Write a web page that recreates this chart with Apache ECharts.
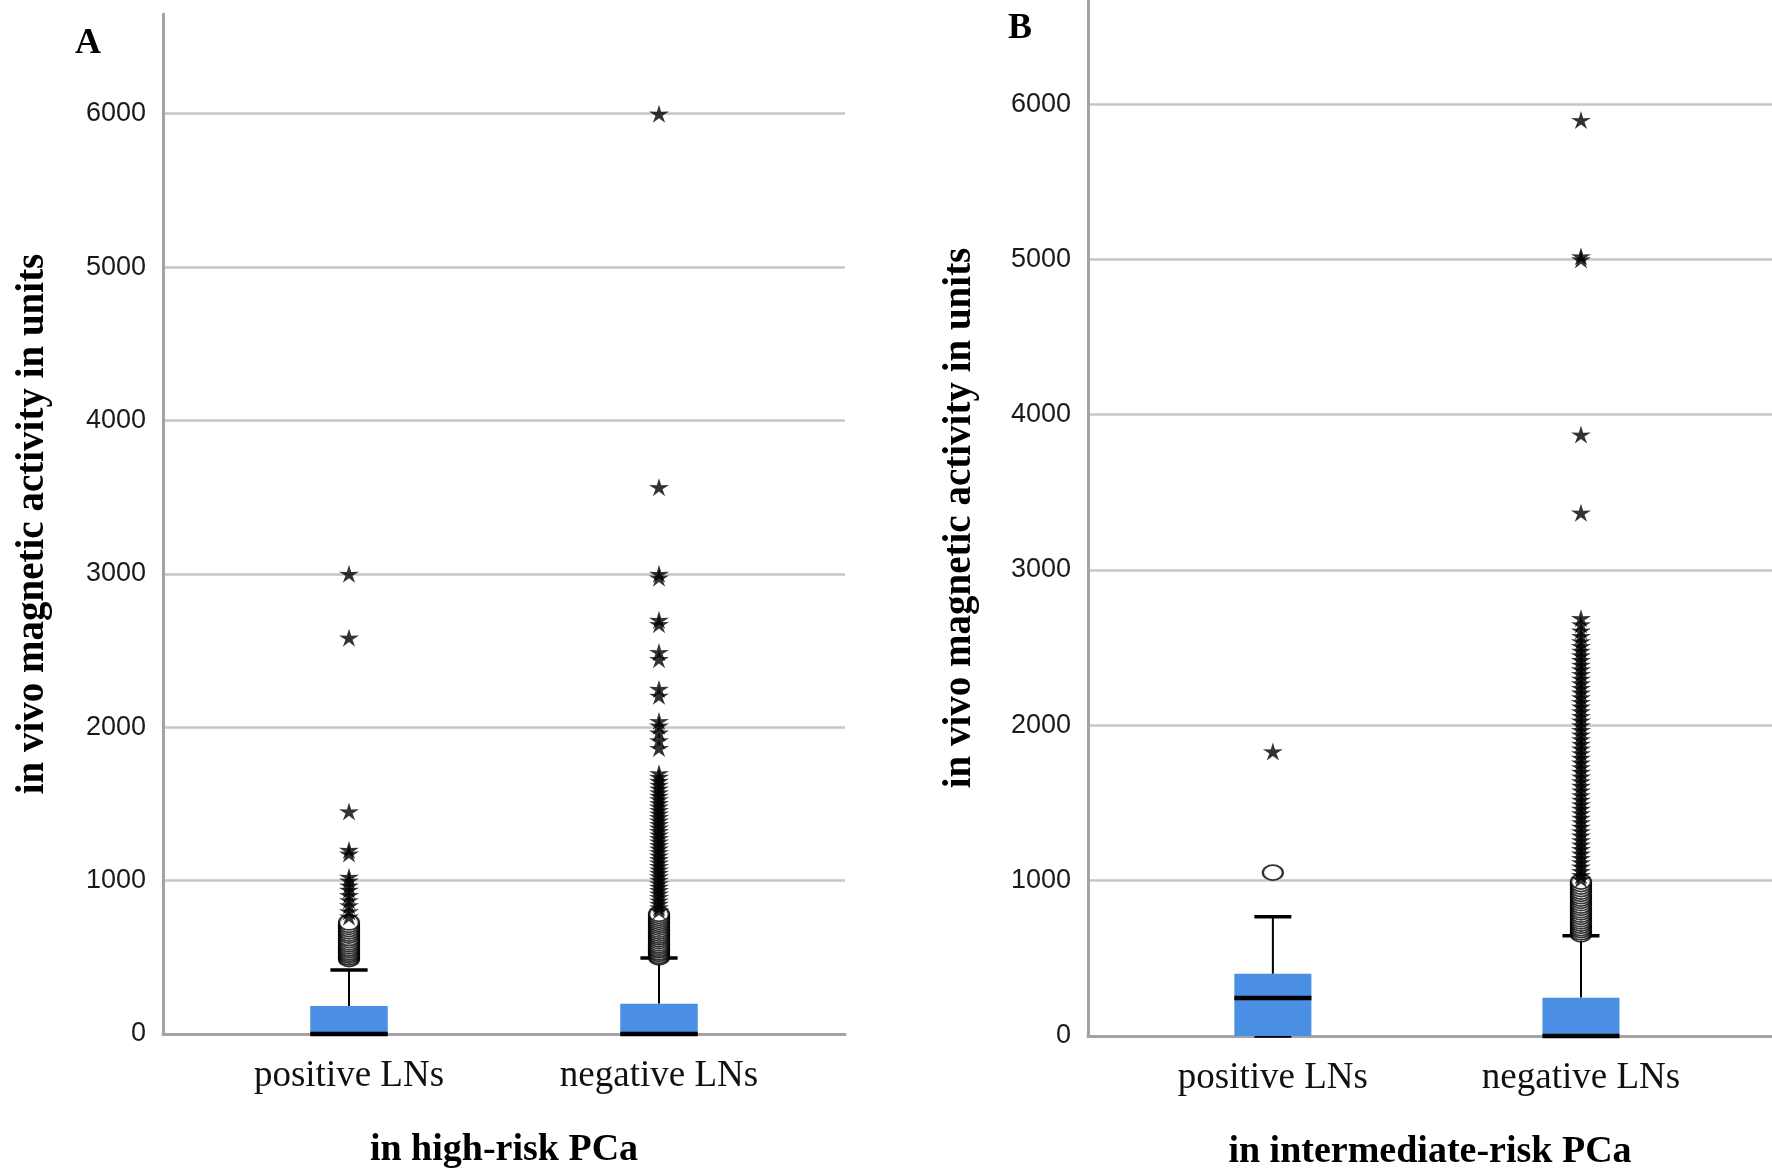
<!DOCTYPE html>
<html>
<head>
<meta charset="utf-8">
<title>In vivo magnetic activity</title>
<script src="https://cdn.jsdelivr.net/npm/echarts@6/dist/echarts.min.js"></script>
<style>
  html, body { margin: 0; padding: 0; background: #fff; }
  #chart { width: 1772px; height: 1171px; }
</style>
</head>
<body>
<div id="chart"></div>
<script>
const categories = ['positive LNs', 'negative LNs'];

// box: [min, Q1, median, Q3, max]
const highPosBox = [0, 0, 0, 183, 418];
const highNegBox = [0, 0, 0, 197, 495];
const interPosBox = [0, 0, 245, 400, 768];
const interNegBox = [0, 0, 0, 247, 645];

// outliers (o) and extremes (*)
const highPosCircles = [488, 499, 511, 523, 534, 547, 558, 571, 584, 598, 612, 626, 641, 655, 669, 684, 698, 712, 727];
const highPosStars = [765, 800, 838, 872, 905, 940, 968, 1000, 1025, 1176, 1200, 1451, 2584, 3000];

const highNegCircles = [500, 510, 522, 533, 545, 556, 568, 580, 592, 605, 617, 630, 642, 655, 668, 680, 693, 706, 718, 731, 744, 757, 770, 783];
const highNegStars = [
  805, 826, 848, 870, 893, 915, 938, 960, 982, 1005, 1027, 1050, 1072, 1095, 1118, 1140,
  1163, 1186, 1208, 1231, 1254, 1277, 1300, 1322, 1345, 1368, 1391, 1414, 1437, 1460,
  1483, 1506, 1530, 1553, 1576, 1600, 1625, 1650, 1676, 1700,
  1864, 1914, 1965, 2010, 2040, 2205, 2250, 2444, 2490, 2672, 2700, 2975, 3000, 3565, 6000
];

const interPosCircles = [1052];
const interPosStars = [1832];

const interNegCircles = [655, 668, 682, 695, 710, 724, 738, 752, 767, 781, 796, 810, 825, 840, 855, 870, 885, 900, 915, 930, 946, 962, 978, 994];
const interNegStars = [
  1010, 1035, 1062, 1090, 1118, 1146, 1174, 1203, 1232, 1260, 1290, 1318, 1347, 1376,
  1405, 1434, 1463, 1492, 1521, 1550, 1580, 1610, 1640, 1670, 1700, 1730, 1760, 1790,
  1820, 1850, 1880, 1910, 1940, 1970, 2000, 2030, 2060, 2090, 2120, 2150, 2180, 2210,
  2240, 2270, 2300, 2330, 2360, 2390, 2420, 2450, 2480, 2510, 2540, 2575, 2610, 2650, 2690,
  3369, 3872, 5000, 5020, 5897
];

const starPath = 'path://M0,-10 L2.06,-2.83 L9.51,-3.09 L3.33,1.08 L5.88,8.09 L0,3.5 L-5.88,8.09 L-3.33,1.08 L-9.51,-3.09 L-2.06,-2.83 Z';
const boxColor = '#4a8fe3';
const serif = "'Liberation Serif', 'Times New Roman', serif";
const sans = "'Liberation Sans', Arial, sans-serif";

const chart = echarts.init(document.getElementById('chart'));

function renderBox(params, api) {
  const x = api.value(0);
  const lo = api.coord([x, api.value(1)]);
  const q1 = api.coord([x, api.value(2)]);
  const med = api.coord([x, api.value(3)]);
  const q3 = api.coord([x, api.value(4)]);
  const hi = api.coord([x, api.value(5)]);
  const band = api.size([1, 0])[0];
  const boxW = band * 0.25;
  const capW = band * 0.12;
  const cx = lo[0];
  const black = { stroke: '#000' };
  return {
    type: 'group',
    children: [
      { type: 'line', shape: { x1: cx, y1: q3[1], x2: cx, y2: hi[1] }, style: { ...black, lineWidth: 2 } },
      { type: 'line', shape: { x1: cx - capW / 2, y1: hi[1], x2: cx + capW / 2, y2: hi[1] }, style: { ...black, lineWidth: 3.5 } },
      { type: 'line', shape: { x1: cx, y1: q1[1], x2: cx, y2: lo[1] }, style: { ...black, lineWidth: 2 } },
      { type: 'line', shape: { x1: cx - capW / 2, y1: lo[1], x2: cx + capW / 2, y2: lo[1] }, style: { ...black, lineWidth: 3.5 } },
      { type: 'rect', shape: { x: cx - boxW / 2, y: q3[1], width: boxW, height: q1[1] - q3[1] }, style: { fill: boxColor } },
      { type: 'line', shape: { x1: cx - boxW / 2, y1: med[1], x2: cx + boxW / 2, y2: med[1] }, style: { ...black, lineWidth: 4.5 } }
    ]
  };
}

function xAxisFor(gridIndex, max, title) {
  return {
    gridIndex,
    type: 'value',
    min: -0.6,
    max,
    name: title,
    nameLocation: 'middle',
    nameGap: 97,
    nameTextStyle: { fontFamily: serif, fontWeight: 'bold', fontSize: 38, color: '#000' },
    axisLine: { onZero: false, lineStyle: { color: '#a3a3a3', width: 3 } },
    axisTick: { show: false },
    splitLine: { show: false },
    axisLabel: {
      margin: 24,
      fontFamily: serif,
      fontSize: 37,
      color: '#111',
      formatter: (v) => (categories[v] !== undefined && Number.isInteger(v) ? categories[v] : '')
    }
  };
}

function yAxisFor(gridIndex, max, gap) {
  return {
    gridIndex,
    type: 'value',
    min: 0,
    max,
    interval: 1000,
    name: 'in vivo magnetic activity in units',
    nameLocation: 'middle',
    nameRotate: 90,
    nameGap: gap,
    nameTextStyle: { fontFamily: serif, fontWeight: 'bold', fontSize: 39, color: '#000' },
    axisLine: { show: true, onZero: false, lineStyle: { color: '#a3a3a3', width: 3 } },
    axisTick: { show: false },
    axisLabel: {
      margin: 17,
      fontFamily: sans,
      fontSize: 27,
      color: '#1a1a1a',
      showMaxLabel: false,
      formatter: (v) => (v % 1000 === 0 ? String(v) : '')
    },
    splitLine: { show: true, showMinLine: false, showMaxLine: false, lineStyle: { color: '#c6c6c6', width: 2.5 } }
  };
}

function panelSeries(idx, posBox, negBox, posCircles, negCircles, posStars, negStars) {
  const circleData = posCircles.map((v) => [0, v]).concat(negCircles.map((v) => [1, v]));
  const starData = posStars.map((v) => [0, v]).concat(negStars.map((v) => [1, v]));
  return [
    {
      type: 'custom',
      xAxisIndex: idx,
      yAxisIndex: idx,
      renderItem: renderBox,
      encode: { x: 0, y: [1, 2, 3, 4, 5] },
      data: [[0, ...posBox], [1, ...negBox]],
      z: 3
    },
    {
      type: 'scatter',
      xAxisIndex: idx,
      yAxisIndex: idx,
      symbol: 'emptyCircle',
      symbolSize: [20, 15],
      itemStyle: { color: '#000', borderWidth: 3 },
      data: circleData,
      z: 4
    },
    {
      type: 'scatter',
      xAxisIndex: idx,
      yAxisIndex: idx,
      symbol: starPath,
      symbolSize: [20, 18],
      itemStyle: { color: '#000' },
      data: starData,
      z: 5
    }
  ];
}

chart.setOption({
  animation: false,
  backgroundColor: '#fff',
  title: [
    { text: 'A', left: 75, top: 26, padding: 0, textStyle: { fontFamily: serif, fontWeight: 'bold', fontSize: 36, color: '#000' } },
    { text: 'B', left: 1008, top: 11, padding: 0, textStyle: { fontFamily: serif, fontWeight: 'bold', fontSize: 36, color: '#000' } }
  ],
  grid: [
    { left: 163, right: 927, top: 14, bottom: 137, outerBoundsMode: 'none', containLabel: false },
    { left: 1088, right: 0, top: 0, bottom: 135, outerBoundsMode: 'none', containLabel: false }
  ],
  xAxis: [
    xAxisFor(0, 1.6, 'in high-risk PCa'),
    xAxisFor(1, 1.62, 'in intermediate-risk PCa')
  ],
  yAxis: [
    yAxisFor(0, 6650, 111),
    yAxisFor(1, 6670, 109)
  ],
  series: [
    ...panelSeries(0, highPosBox, highNegBox, highPosCircles, highNegCircles, highPosStars, highNegStars),
    ...panelSeries(1, interPosBox, interNegBox, interPosCircles, interNegCircles, interPosStars, interNegStars)
  ]
});
</script>
</body>
</html>
